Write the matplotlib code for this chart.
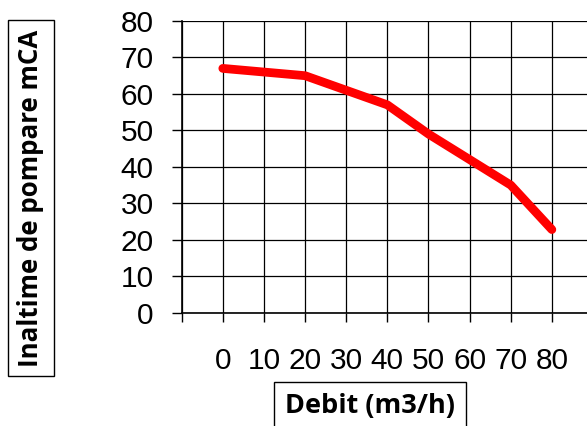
import matplotlib
matplotlib.use('Agg')
import matplotlib.pyplot as plt

debit = [0, 10, 20, 30, 40, 50, 60, 70, 80]
inaltime = [67, 66, 65, 61, 57, 49, 42, 35, 22.8]
xticks = [-10, 0, 10, 20, 30, 40, 50, 60, 70, 80, 90]
xlabels = ['', '0', '10', '20', '30', '40', '50', '60', '70', '80', '']
yticks = [0, 10, 20, 30, 40, 50, 60, 70, 80]

fig = plt.figure(figsize=(5.87, 4.26), dpi=100)
ax = fig.add_axes([0.3095, 0.266, 0.7007, 0.6847])

ax.plot(debit, inaltime, color='#ff0000', lw=6.3, solid_capstyle='round', solid_joinstyle='round', zorder=3)

ax.set_xlim(-10, 90)
ax.set_ylim(0, 80)
ax.set_xticks(xticks)
ax.set_xticklabels(xlabels, family='Liberation Sans', fontsize=21.5)
ax.set_yticks(yticks)
ax.set_yticklabels([str(v) for v in yticks], family='Liberation Sans', fontsize=21.5)
ax.grid(True, color='black', lw=0.9)
ax.set_axisbelow(True)
for s in ['top', 'right']:
    ax.spines[s].set_visible(False)
ax.spines['left'].set_linewidth(1.2)
ax.spines['bottom'].set_linewidth(1.2)
ax.tick_params(axis='x', direction='out', length=6.5, width=1, pad=18)
ax.tick_params(axis='y', direction='out', length=7.2, width=1, pad=13)

fig.text(31 / 587, 1 - 198 / 426, 'Inaltime de pompare mCA', rotation=90,
         ha='center', va='center', family='Open Sans', weight='bold', fontsize=18.6,
         bbox=dict(boxstyle='square,pad=0.38', fc='white', ec='black', lw=1))
fig.text(370 / 587, 1 - 406 / 426, 'Debit (m3/h)', ha='center', va='center',
         family='Open Sans', weight='bold', fontsize=19.5,
         bbox=dict(boxstyle='square,pad=0.4', fc='white', ec='black', lw=1))

fig.savefig('out.png', dpi=100)
